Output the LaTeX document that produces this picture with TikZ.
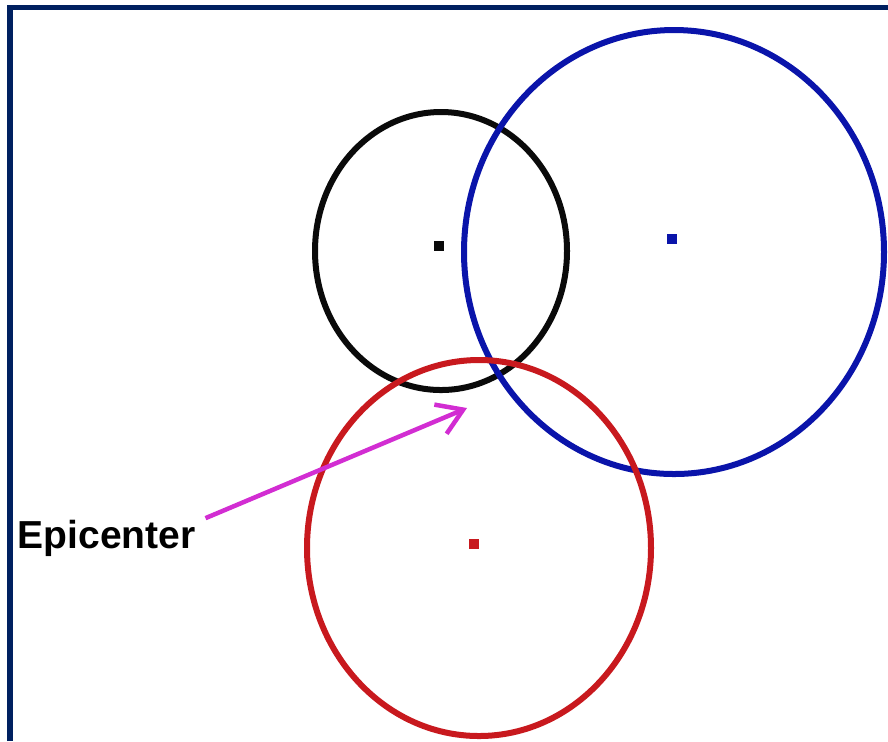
\documentclass[tikz,border=0pt]{standalone}
\usepackage{fontspec}
\setmainfont{Liberation Sans}
\usepackage{xcolor}
\usepackage{tikz}
\usetikzlibrary{arrows.meta, positioning}
\definecolor{framenavy}{RGB}{0, 32, 96}
\definecolor{ringblack}{RGB}{10, 10, 10}
\definecolor{ringblue}{RGB}{10, 20, 170}
\definecolor{ringred}{RGB}{200, 25, 30}
\definecolor{pointer}{RGB}{210, 45, 210}

\begin{document}
\begin{tikzpicture}[
    x=0.01cm, y=-0.01cm,
    ring/.style={line width=0.06cm},
    centre/.style={minimum size=0.1cm, inner sep=0pt},
    label/.style={font=\fontsize{11.1}{13}\selectfont\bfseries, inner sep=0pt},
    pointer/.style={draw=pointer, line width=0.045cm, shorten <=0.1cm,
                    -{Straight Barb[length=7pt, width=9pt]}}
]
    \useasboundingbox (0,0) rectangle (888,741);
    % frame, only top and left edge
    \draw[framenavy, line width=0.05cm] (10,741) -- (10,7) -- (888,7);

    % the three rings
    \draw[ring, ringblack] (441,251) ellipse [x radius=126, y radius=139];
    \draw[ring, ringblue] (674,252) ellipse [x radius=210, y radius=222];
    \draw[ring, ringred] (479,548) ellipse [x radius=172, y radius=188];

    \node[centre, fill=ringblack] (blackc) at (439,246) {};
    \node[centre, fill=ringblue] (bluec) at (672,239) {};
    \node[centre, fill=ringred] (redc) at (474,544) {};

    \node[label, anchor=base west] (epicenter) at (17,548) {Epicenter};
    \coordinate (hit) at (467,408);
    \draw[pointer] (epicenter.north east) ++(0,3) -- (hit);
\end{tikzpicture}
\end{document}
